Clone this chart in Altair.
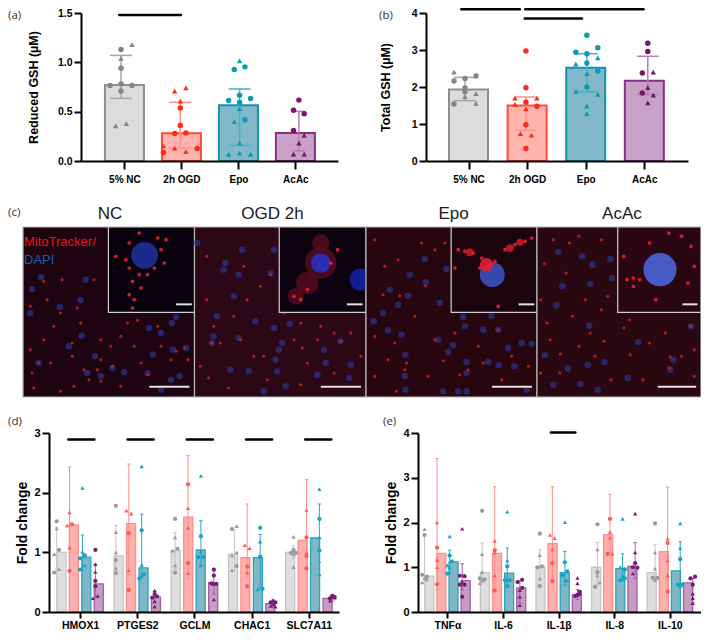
import json
import altair as alt
import pandas as pd

FONT = "Liberation Sans"
LABEL_FONT = "Open Sans"
W, H = 693, 624   # whole drawing, page px minus the 8px margin

# ---------- colours ----------
FILLS = ["#dcdcdc", "#ffb5ae", "#82b8ca", "#c9a0c6"]
STROKES = ["#8e8e8e", "#ff4b3c", "#1095ad", "#8a2f87"]
DOTS = ["#858585", "#ff2a17", "#0a9ab5", "#76166f"]
ERRS = ["#a8a8a8", "#ff8f88", "#49b1c6", "#b57fb3"]
FILLS2 = ["#dedede", "#ffb0ac", "#7fb6c8", "#c69cc4"]
STROKES2 = ["#c4c4c4", "#ff8d88", "#2aa3bb", "#a25da0"]
DOTS2 = ["#9a9a9a", "#ff5a55", "#0fa8c4", "#7a1a78"]

# ---------- panel (a) ----------
A_CATS = ["5% NC", "2h OGD", "Epo", "AcAc"]
A_BAR = [0.77, 0.28, 0.565, 0.285]
A_HI = [1.07, 0.595, 0.73, 0.504]
A_LO = [0.635, 0.13, 0.158, 0.103]
A_CAP = [0.185, 0.185, 0.185, 0.1]
A_PTS = [
    [(0, 1.13, "c"), (0, .94, "c"), (-.185, .765, "c"), (0, .78, "c"), (.185, .765, "c"), (0, .71, "c"),
     (.185, 1.18, "t"), (0, 1.04, "t"), (-.09, .355, "t"), (.09, .38, "t")],
    [(0, .537, "c"), (0, .36, "c"), (-.095, .278, "c"), (.095, .285, "c"), (-.285, .087, "c"), (.285, .126, "c"),
     (-.095, .708, "t"), (.095, .74, "t"), (0, .608, "t"), (-.285, .152, "t"), (-.095, .13, "t"), (.095, .094, "t")],
    [(-.09, .928, "c"), (.09, .954, "c"), (0, .666, "c"), (-.185, .614, "c"), (.185, .634, "c"), (0, .595, "c"), (.09, .417, "c"),
     (0, 1.015, "t"), (0, .53, "t"), (-.09, .40, "t"), (0, .18, "t"), (-.185, .068, "t"), (0, .08, "t"), (.185, .068, "t")],
    [(0, .617, "c"), (-.09, .514, "c"), (.09, .478, "c"), (-.09, .31, "c"),
     (.09, .259, "t"), (0, .18, "t"), (-.09, .07, "t"), (.09, .07, "t")],
]
A_SIG = [(-0.03, 1.01, 1.48)]

# ---------- panel (b) ----------
B_BAR = [1.93, 1.5, 2.52, 2.17]
B_HI = [2.26, 1.73, 2.90, 2.83]
B_LO = [1.63, 0.83, 1.87, 1.80]
B_CAP = [0.18, 0.18, 0.18, 0.18]
B_PTS = [
    [(.18, 2.30, "c"), (0, 2.23, "c"), (-.18, 2.16, "c"), (0, 1.97, "c"), (0, 1.87, "c"), (-.18, 1.54, "c"),
     (-.18, 2.40, "t"), (.18, 1.82, "t"), (0, 1.74, "t"), (.18, 1.56, "t")],
    [(0, 2.97, "c"), (0, 1.98, "c"), (0, 1.59, "c"), (.18, 1.48, "c"), (0, .98, "c"), (0, .34, "c"),
     (-.18, 1.70, "t"), (.18, 1.70, "t"), (-.18, 1.53, "t"), (0, 1.41, "t"), (-.09, .74, "t"), (.09, .70, "t")],
    [(0, 3.40, "c"), (.18, 3.06, "c"), (-.18, 2.94, "c"), (0, 2.90, "c"), (0, 2.65, "c"), (.18, 2.43, "c"), (0, 2.0, "c"),
     (.18, 2.79, "t"), (-.18, 2.62, "t"), (0, 2.36, "t"), (-.18, 1.88, "t"), (.18, 1.80, "t"), (0, 1.48, "t"), (0, 1.28, "t")],
    [(0, 3.18, "c"), (0, 2.96, "c"), (-.09, 2.38, "c"), (-.09, 1.84, "c"),
     (.09, 2.40, "t"), (0, 1.98, "t"), (.09, 1.78, "t"), (0, 1.57, "t")],
]
B_SIG = [(-0.06, 0.9, 4.1), (0.99, 2.93, 4.1), (0.98, 1.92, 3.85)]

# ---------- panel (d) ----------
D_CATS = ["HMOX1", "PTGES2", "GCLM", "CHAC1", "SLC7A11"]
D_BAR = [[1.0, 1.46, .92, .47], [.94, 1.48, .74, .25], [1.03, 1.59, 1.04, .49], [.97, .91, .91, .14], [1.0, 1.2, 1.24, .23]]
D_HI = [[1.42, 2.43, 1.29, .8], [1.45, 2.48, 1.64, .35], [1.33, 2.62, 1.53, .7], [1.38, 1.81, 1.3, .2], [1.11, 2.22, 1.81, .28]]
D_LO = [[.72, 1.0, .7, .24], [.7, .63, .6, .15], [.72, .56, .78, .3], [.7, .6, .4, .08], [.9, .72, .83, .18]]
D_PTS = [
    [[(0, 1.52, "c"), (0, 1.40, "t"), (1, 1.04, "c"), (-1, .97, "t"), (1, .72, "t"), (-1, .66, "c")],
     [(0, 1.67, "t"), (1, 1.47, "c"), (-1, 1.45, "t"), (0, 1.08, "t"), (0, .69, "c")],
     [(0, 2.08, "t"), (0, 1.01, "t"), (1, .95, "c"), (-1, .9, "c"), (1, .78, "t"), (-1, .71, "c")],
     [(0, 1.04, "c"), (0, .8, "t"), (0, .67, "t"), (0, .52, "c"), (0, .43, "c"), (1, .27, "t"), (-1, .23, "t")]],
    [[(0, 1.78, "c"), (0, 1.34, "t"), (0, 1.0, "t"), (0, .87, "c"), (0, .73, "t"), (0, .65, "c")],
     [(-1, 1.70, "t"), (1, 1.65, "t"), (0, 1.32, "c"), (0, .70, "t"), (0, .37, "c")],
     [(0, 2.44, "t"), (0, 1.37, "c"), (0, .79, "t"), (1, .63, "c"), (0, .6, "t"), (-1, .56, "c")],
     [(0, .36, "t"), (0, .30, "c"), (1, .26, "c"), (-1, .24, "c"), (0, .18, "t"), (0, .09, "t")]],
    [[(0, 1.56, "c"), (0, 1.25, "t"), (1, 1.06, "c"), (-1, 1.03, "t"), (0, .78, "t"), (0, .66, "c")],
     [(0, 2.14, "c"), (0, 1.74, "t"), (0, 1.41, "t"), (0, .82, "c"), (0, .65, "t")],
     [(0, 2.28, "t"), (0, 1.27, "c"), (0, 1.01, "t"), (1, .92, "c"), (-1, .92, "c"), (0, .78, "t")],
     [(0, .71, "c"), (0, .61, "c"), (-1, .48, "c"), (1, .47, "c"), (0, .47, "t"), (0, .21, "t")]],
    [[(-1, 1.39, "c"), (1, 1.44, "t"), (1, 1.0, "t"), (-1, .95, "t"), (1, .77, "c"), (-1, .70, "t")],
     [(-1, 1.12, "t"), (1, 1.07, "t"), (0, .76, "c"), (0, .66, "t"), (0, .43, "c")],
     [(0, 1.41, "c"), (0, 1.18, "t"), (0, .93, "c"), (-1, .38, "t"), (1, .39, "c")],
     [(0, .2, "t"), (-1, .16, "c"), (1, .16, "c"), (0, .13, "t"), (-1, .10, "t"), (1, .09, "t")]],
    [[(0, 1.26, "t"), (0, 1.04, "c"), (-1, .99, "c"), (1, .99, "c"), (0, .97, "t"), (0, .75, "t")],
     [(0, 1.71, "t"), (0, 1.25, "c"), (0, 1.0, "t"), (0, .94, "c"), (0, .73, "c")],
     [(0, 2.06, "t"), (0, 1.56, "c"), (0, 1.25, "t"), (0, 1.03, "c"), (0, .63, "t")],
     [(0, .27, "c"), (1, .25, "c"), (-1, .23, "c"), (0, .25, "t"), (1, .24, "t"), (-1, .19, "t")]],
]
D_SIG = [(g - .13, g + .31, 2.89) for g in [0, 1, 2, 3, 4]]

# ---------- panel (e) ----------
E_CATS = ["TNFα", "IL-6", "IL-1β", "IL-8", "IL-10"]
E_BAR = [[.8, 1.31, 1.12, .7], [.88, 1.31, .87, .54], [1.0, 1.53, .88, .38], [1.0, 1.73, .97, 1.02], [.88, 1.35, .92, .65]]
E_HI = [[1.72, 3.43, 1.38, 1.08], [1.54, 2.8, 1.43, .7], [1.39, 2.8, 1.35, .5], [1.55, 2.63, 1.3, 1.55], [1.5, 2.79, 1.57, .75]]
E_LO = [[.7, .5, .85, .5], [.65, .5, .55, .2], [.7, .7, .6, .28], [.6, 1.3, .7, .75], [.7, .5, .6, .2]]
E_PTS = [
    [[(0, 1.85, "t"), (0, 1.72, "c"), (-1, .83, "c"), (1, .79, "c"), (0, .76, "t"), (1, .73, "t"), (-1, .66, "t")],
     [(0, 2.0, "t"), (0, 1.44, "c"), (0, 1.16, "t"), (0, 1.0, "t"), (0, .62, "c")],
     [(0, 1.69, "t"), (0, 1.26, "c"), (1, 1.13, "c"), (-1, 1.04, "t"), (0, 1.0, "t"), (-1, .86, "c")],
     [(0, 1.86, "t"), (-1, .81, "c"), (1, .80, "c"), (0, .67, "t"), (-1, .61, "c"), (1, .61, "c"), (0, .34, "c")]],
    [[(0, 2.26, "c"), (0, 1.29, "t"), (0, .89, "t"), (-1, .75, "c"), (1, .73, "c"), (0, .70, "t"), (-1, .64, "t")],
     [(0, 1.59, "t"), (0, 1.38, "c"), (0, 1.33, "t"), (0, .82, "t"), (0, .48, "c")],
     [(0, 2.24, "t"), (0, 1.15, "t"), (0, 1.02, "c"), (-1, .71, "c"), (1, .71, "c"), (0, .58, "c")],
     [(1, .72, "c"), (-1, .67, "c"), (1, .54, "c"), (0, .49, "t"), (0, .34, "t"), (0, .15, "t")]],
    [[(0, 1.75, "c"), (0, 1.27, "t"), (1, 1.02, "c"), (-1, 1.0, "c"), (0, .75, "t"), (0, .58, "c")],
     [(-1, 1.72, "t"), (1, 1.65, "t"), (0, 1.40, "t"), (0, 1.09, "c"), (0, .69, "c")],
     [(0, 2.01, "t"), (0, 1.11, "c"), (1, .91, "c"), (-1, .82, "c"), (0, .71, "t"), (1, .7, "t")],
     [(0, .76, "t"), (0, .64, "t"), (1, .45, "c"), (0, .38, "c"), (-1, .36, "c"), (1, .4, "c")]],
    [[(0, 1.96, "c"), (0, 1.40, "t"), (0, .89, "c"), (0, .82, "t"), (1, .66, "t"), (-1, .56, "c")],
     [(0, 2.08, "c"), (0, 1.79, "t"), (0, 1.66, "t"), (-1, 1.30, "c"), (1, 1.30, "t")],
     [(0, 2.08, "t"), (-1, 1.0, "t"), (1, .95, "c"), (0, .82, "t"), (-1, .71, "c"), (1, .75, "c")],
     [(0, 2.2, "t"), (0, 1.33, "t"), (0, 1.09, "c"), (-1, 1.0, "c"), (1, .99, "c"), (-1, .86, "t")]],
    [[(0, 1.98, "c"), (0, 1.33, "t"), (0, .97, "t"), (-1, .76, "c"), (1, .76, "c"), (0, .71, "t")],
     [(0, 1.64, "t"), (0, 1.54, "c"), (0, 1.15, "t"), (0, .82, "t"), (0, .45, "c")],
     [(0, 1.98, "t"), (0, 1.43, "t"), (0, 1.18, "c"), (-1, .61, "c"), (1, .61, "c"), (0, .58, "t")],
     [(1, .79, "c"), (-1, .75, "c"), (0, .61, "c"), (0, .41, "t"), (0, .31, "t"), (0, .2, "t")]],
]
E_SIG = [(2 - .135, 2 + .29, 4.01)]

# ---------- panel (c): read positions of nuclei and bright spots ----------
NC_NUC = [(122,233),(95,268),(255,240),(240,302),(178,322),(283,470),(260,520),(300,530),(243,408),(205,440),(115,490),(370,518),(335,505),(440,520),(445,385),(512,370),(525,352),(480,400),(515,450),(555,445),(455,465),(535,530),(480,570),(90,340),(510,540)]
NC_RED = [(180,575),(300,545),(265,540),(215,430),(115,490),(130,245),(230,325),(300,480),(335,500),(410,362),(525,455),(550,445),(380,370),(440,525),(185,240),(280,240),(100,565),(330,440),(215,470),(150,490),(400,440),(480,440),(250,510),(290,510),(160,380),(90,450),(470,380),(510,480),(420,490),(360,410),(560,480),(140,300),(240,370),(95,520),(360,560),(220,560),(300,420),(180,340),(90,320),(130,420)]
NC_INS = [(385,130),(415,100),(470,115),(495,120),(345,170),(375,180),(385,205),(415,225),(440,225),(395,245),(420,265),(385,285),(400,300),(395,325),(480,150),(490,190),(460,205)]
OGD_NUC = [(675,190),(725,150),(670,210),(715,225),(820,150),(590,130),(700,290),(810,220),(765,365),(820,385),(868,372),(640,410),(715,415),(635,430),(650,350),(845,430),(835,450),(825,480),(970,450),(975,490),(1018,425),(690,510),(830,515),(745,515),(950,525),(855,560),(790,575),(1050,495),(1045,535)]
OGD_RED = [(730,200),(810,225),(635,430),(660,430),(720,420),(905,445),(1020,425),(685,565),(900,555),(625,535),(740,300),(640,380),(880,420),(760,470),(1000,520),(950,420),(790,470),(600,500),(850,340),(1000,400),(620,170),(780,260),(620,300),(700,350),(900,370),(960,380),(1050,400),(1080,470),(800,540),(920,490)]
EPO_NUC = [(210,178),(165,225),(213,248),(275,208),(105,270),(160,288),(130,315),(255,310),(57,365),(100,392),(140,405),(250,420),(295,437),(280,457),(330,380),(325,352),(385,390),(410,350),(430,390),(460,445),(530,432),(500,430),(335,487),(335,520),(400,487),(432,497),(478,500),(152,465),(150,530),(152,570),(265,575),(310,575),(335,575),(515,570),(85,340)]
EPO_RED = [(212,258),(135,288),(85,285),(430,392),(265,483),(315,525),(340,510),(155,490),(125,575),(385,490),(150,510),(240,420),(60,410),(120,430),(180,350),(300,400),(470,470),(520,500),(90,200),(240,150),(200,130),(130,180),(60,120),(100,480),(220,530),(440,540),(370,440),(60,530),(270,130)]
EPO_INS = [(310,150),(330,155),(355,160),(380,175),(450,150),(480,135),(510,125),(530,115),(420,185),(395,200),(300,205),(405,195),(375,205),(430,320)]
ACAC_NUC = [(615,157),(690,170),(722,195),(778,178),(783,235),(628,260),(715,253),(610,317),(712,378),(865,427),(573,467),(645,507),(707,495),(760,487),(832,535),(600,555),(685,553),(738,570),(1030,380),(965,510),(975,480)]
ACAC_RED = [(572,192),(622,463),(965,472),(962,505),(1028,380),(838,360),(840,465),(758,425),(715,400),(820,385),(600,120),(650,130),(700,300),(560,300),(660,350),(750,330),(900,430),(950,400),(1000,470),(590,420),(680,440),(780,540),(620,520),(880,540),(1040,450),(560,520),(730,470),(1040,530),(680,110),(750,120),(640,220),(580,370),(770,290)]
ACAC_INS = [(850,235),(870,240),(830,240),(1030,140),(1000,110),(960,100),(900,130),(820,170),(1020,250),(850,260),(1040,200),(920,300)]

X_OFFS = [-.327, -.109, .109, .327]


def axis_common(**kw):
    return alt.Axis(grid=False, domainWidth=2, domainColor="black", tickWidth=2, tickColor="black",
                    labelColor="black", labelFont=FONT, labelFontWeight="bold", titleFont=FONT,
                    titleFontWeight="bold", titleColor="black", zindex=1, **kw)


def tag(text, px, py):
    return alt.Chart(pd.DataFrame({"t": [text]})).mark_text(
        align="left", baseline="middle", font=LABEL_FONT, fontSize=11.5, color="#333333"
    ).encode(text="t:N", x=alt.value(px - 8), y=alt.value(py - 8))


def bar_panel(cats, bars, his, los, caps, pts, sigs, bar_x, jit, xdom, xr, yr, ytop, yvals, yfmt,
              ylabel, title_x, title_size, xlab_size, ylab_size, tick_x, pad_x,
              bar_size, stroke_w, sig_w, dot_size, fills, strokes, dots, errs):
    rows_b, rows_p = [], []
    for (g, s, x) in bar_x:
        rows_b.append(dict(x=x, bar=bars(g, s), hi=his(g, s), lo=los(g, s), xl=x - caps(s), xr=x + caps(s),
                           fill=fills[s], stroke=strokes[s], err=errs[s]))
        for (dx, v, sh) in pts(g, s):
            rows_p.append(dict(x=x + dx * jit, v=v, sh=sh, dot=dots[s]))
    db, dp = pd.DataFrame(rows_b), pd.DataFrame(rows_p)
    ds = pd.DataFrame(sigs, columns=["a", "b", "y"])
    xs = alt.Scale(domain=xdom, range=[xr[0] - 8, xr[1] - 8], nice=False, zero=False)
    ys = alt.Scale(domain=[0, ytop], range=[yr[0] - 8, yr[1] - 8], nice=False, zero=False)
    labels = json.dumps(cats, ensure_ascii=False)
    xa = axis_common(orient="bottom", values=list(range(len(cats))), labelExpr=f"{labels}[datum.value]", title=None,
                     tickSize=tick_x, labelFontSize=xlab_size, labelOverlap=False, labelFlush=False,
                     labelBound=False, labelPadding=pad_x, offset=-(H - (yr[0] - 8)))
    ya = axis_common(orient="left", values=yvals, format=yfmt, title=ylabel, tickSize=7, labelFontSize=ylab_size,
                     titleFontSize=title_size, titleX=title_x, labelPadding=2, offset=-(xr[0] - 8))
    X = lambda f: alt.X(f, scale=xs, axis=None)
    Y = lambda f: alt.Y(f, scale=ys, axis=None)
    bar = alt.Chart(db).mark_bar(size=bar_size, strokeWidth=stroke_w, orient="vertical").encode(
        x=alt.X("x:Q", scale=xs, axis=xa), y=alt.Y("bar:Q", scale=ys, axis=ya),
        fill=alt.Fill("fill:N", scale=None), stroke=alt.Stroke("stroke:N", scale=None))
    e1 = alt.Chart(db).mark_rule(strokeWidth=stroke_w * .75).encode(
        x=X("x:Q"), y=Y("lo:Q"), y2="hi:Q", color=alt.Color("err:N", scale=None))
    e2 = alt.Chart(db).mark_rule(strokeWidth=stroke_w * .75).encode(
        x=X("xl:Q"), x2="xr:Q", y=Y("hi:Q"), color=alt.Color("err:N", scale=None))
    e3 = alt.Chart(db).mark_rule(strokeWidth=stroke_w * .75).encode(
        x=X("xl:Q"), x2="xr:Q", y=Y("lo:Q"), color=alt.Color("err:N", scale=None))
    c = alt.Chart(dp[dp.sh == "c"]).mark_point(shape="circle", filled=True, opacity=1, size=dot_size).encode(
        x=X("x:Q"), y=Y("v:Q"), color=alt.Color("dot:N", scale=None))
    t = alt.Chart(dp[dp.sh == "t"]).mark_point(shape="triangle-up", filled=True, opacity=1, size=dot_size).encode(
        x=X("x:Q"), y=Y("v:Q"), color=alt.Color("dot:N", scale=None))
    sig = alt.Chart(ds).mark_rule(strokeWidth=sig_w, color="black", strokeCap="round").encode(
        x=X("a:Q"), x2="b:Q", y=Y("y:Q"))
    return [bar, e1, e2, e3, c, t, sig]


def simple(group_vals):
    return lambda g, s: group_vals[s]


ab_x = [(0, s, float(s)) for s in range(4)]
de_x = [(g, s, g + X_OFFS[s]) for g in range(5) for s in range(4)]

panel_a = bar_panel(A_CATS, simple(A_BAR), simple(A_HI), simple(A_LO), lambda s: A_CAP[s],
                    lambda g, s: A_PTS[s], A_SIG, ab_x, 1.0, [-.675, 3.66], (81, 338), (161, 13),
                    1.5, [0, .5, 1, 1.5], ".1f", "Reduced GSH (µM)", -41, 12.5, 10, 10.5, 8, 5,
                    39, 2, 2.5, 30, FILLS, STROKES, DOTS, ERRS)
panel_b = bar_panel(A_CATS, simple(B_BAR), simple(B_HI), simple(B_LO), lambda s: B_CAP[s],
                    lambda g, s: B_PTS[s], B_SIG, ab_x, 1.0, [-.64, 3.66], (426, 688), (161, 13),
                    4, [0, 1, 2, 3, 4], "d", "Total GSH (µM)", -34, 12.5, 10, 10.5, 8, 5,
                    39, 2, 2.5, 30, FILLS, STROKES, DOTS, ERRS)
panel_d = bar_panel(D_CATS, lambda g, s: D_BAR[g][s], lambda g, s: D_HI[g][s], lambda g, s: D_LO[g][s],
                    lambda s: .03, lambda g, s: D_PTS[g][s], D_SIG, de_x, .04, [-.456, 4.44], (49, 339), (612, 433),
                    3, [0, 1, 2, 3], "d", "Fold change", -20, 14, 10.5, 11, 6, 2,
                    9, 1.3, 2.5, 18, FILLS2, STROKES2, DOTS2, STROKES2)
panel_e = bar_panel(E_CATS, lambda g, s: E_BAR[g][s], lambda g, s: E_HI[g][s], lambda g, s: E_LO[g][s],
                    lambda s: .03, lambda g, s: E_PTS[g][s], E_SIG, de_x, .04, [-.44, 4.47], (418, 701), (612, 433),
                    4, [0, 1, 2, 3, 4], "d", "Fold change", -20, 14, 10.5, 11, 6, 2,
                    9, 1.3, 2.5, 18, FILLS2, STROKES2, DOTS2, STROKES2)


def image_panel(x0, xr, title, title_x, nuc, red, ins_x0, ins_red, ins_nuc, bg, ins_bg, legend=False):
    xs = alt.Scale(domain=[x0, x0 + 512], range=[xr[0] - 8, xr[1] - 8], nice=False, zero=False)
    ys = alt.Scale(domain=[82, 592], range=[227 - 8, 397 - 8], nice=False, zero=False)
    X = lambda f: alt.X(f, scale=xs, axis=None)
    Y = lambda f: alt.Y(f, scale=ys, axis=None)

    def dots(p, color, size, op):
        return alt.Chart(pd.DataFrame(p, columns=["x", "y"])).mark_circle(
            color=color, size=size, opacity=op).encode(x=X("x:Q"), y=Y("y:Q"))

    def bar_rule(a, b, y):
        return alt.Chart(pd.DataFrame({"a": [a], "b": [b], "y": [y]})).mark_rule(
            color="#e2e2e2", strokeWidth=2).encode(x=X("a:Q"), x2="b:Q", y=Y("y:Q"))

    def box(a, b, t, u, fill, stroke):
        return alt.Chart(pd.DataFrame({"a": [a], "b": [b], "t": [t], "u": [u]})).mark_rect(
            fill=fill, stroke=stroke, strokeWidth=1.2).encode(x=X("a:Q"), x2="b:Q", y=Y("t:Q"), y2="u:Q")

    def label(text, x, y, size, color, align="left"):
        return alt.Chart(pd.DataFrame({"t": [text], "x": [x], "y": [y]})).mark_text(
            font=FONT, fontSize=size, color=color, baseline="middle", align=align
        ).encode(text="t:N", x=X("x:Q"), y=Y("y:Q"))

    layers = [box(x0, x0 + 512, 82, 592, bg, "#b8b8b8"),
              dots(nuc, "#2a3a9e", 42, .62), dots(red, "#d81c2a", 9, .85),
              bar_rule(x0 + 377, x0 + 497, 561),
              box(ins_x0, x0 + 512, 82, 338, ins_bg, "#cfcfcf")]
    for (p, col, size, op) in ins_nuc:
        layers.append(dots([p], col, size, op))
    layers.append(dots(ins_red, "#e8202e", 14, .9))
    layers.append(bar_rule(ins_x0 + 202, ins_x0 + 249, 314))
    layers.append(label(title, title_x, 42, 17, "#1a1a1a", "center"))
    if legend:
        layers.append(label("MitoTracker/", 71, 128, 13, "#e8141c"))
        layers.append(label("DAPI", 71, 182, 13, "#1660b0"))
    return layers


img1 = image_panel(68, (23, 194.5), "NC", 328, NC_NUC, NC_RED, 323, NC_INS,
                   [((431, 167), "#1e2c90", 720, .95)], "#1e0410", "#08020e", legend=True)
img2 = image_panel(583, (194.5, 366), "OGD 2h", 816, OGD_NUC, OGD_RED, 836,
                   [(920, 270), (880, 290), (990, 190), (1010, 150), (900, 300)],
                   [((960, 190), "#5a0c20", 1000, .8), ((960, 130), "#5a0c20", 300, .8),
                    ((920, 250), "#5a0c20", 500, .8), ((885, 290), "#5a0c20", 260, .8),
                    ((960, 190), "#2b2fc4", 380, .9), ((1080, 240), "#12209a", 500, .95)], "#2c0716", "#0c0210")
img3 = image_panel(1099, (366, 537), "Epo", 1361, [(x + 1065, y) for x, y in EPO_NUC], [(x + 1065, y) for x, y in EPO_RED],
                   1354, [(x + 1065, y) for x, y in EPO_INS],
                   [((1477, 225), "#3a4cb4", 620, .95), ((1460, 195), "#e0203a", 180, .9),
                    ((1410, 158), "#c81a2c", 60, .9), ((1530, 145), "#c81a2c", 60, .9), ((1560, 128), "#c81a2c", 50, .9)],
                   "#28060f", "#1c040e")
img4 = image_panel(1614, (537, 701), "AcAc", 1879, [(x + 1065, y) for x, y in ACAC_NUC], [(x + 1065, y) for x, y in ACAC_RED],
                   1866, [(x + 1065, y) for x, y in ACAC_INS],
                   [((1998, 210), "#4a5fd0", 1100, .95)], "#2a0812", "#2a0612")

tags = [tag("(a)", 8, 16), tag("(b)", 379, 16), tag("(c)", 8, 213), tag("(d)", 8, 422), tag("(e)", 383, 422)]

all_layers = panel_a + panel_b + img1 + img2 + img3 + img4 + panel_d + panel_e + tags
chart = alt.layer(*all_layers).resolve_scale(x="independent", y="independent").properties(
    width=W, height=H, padding=0, autosize=alt.AutoSizeParams(type="none")
).configure_view(stroke=None)

chart.save("out.html", embed_options={"renderer": "svg", "actions": False})
